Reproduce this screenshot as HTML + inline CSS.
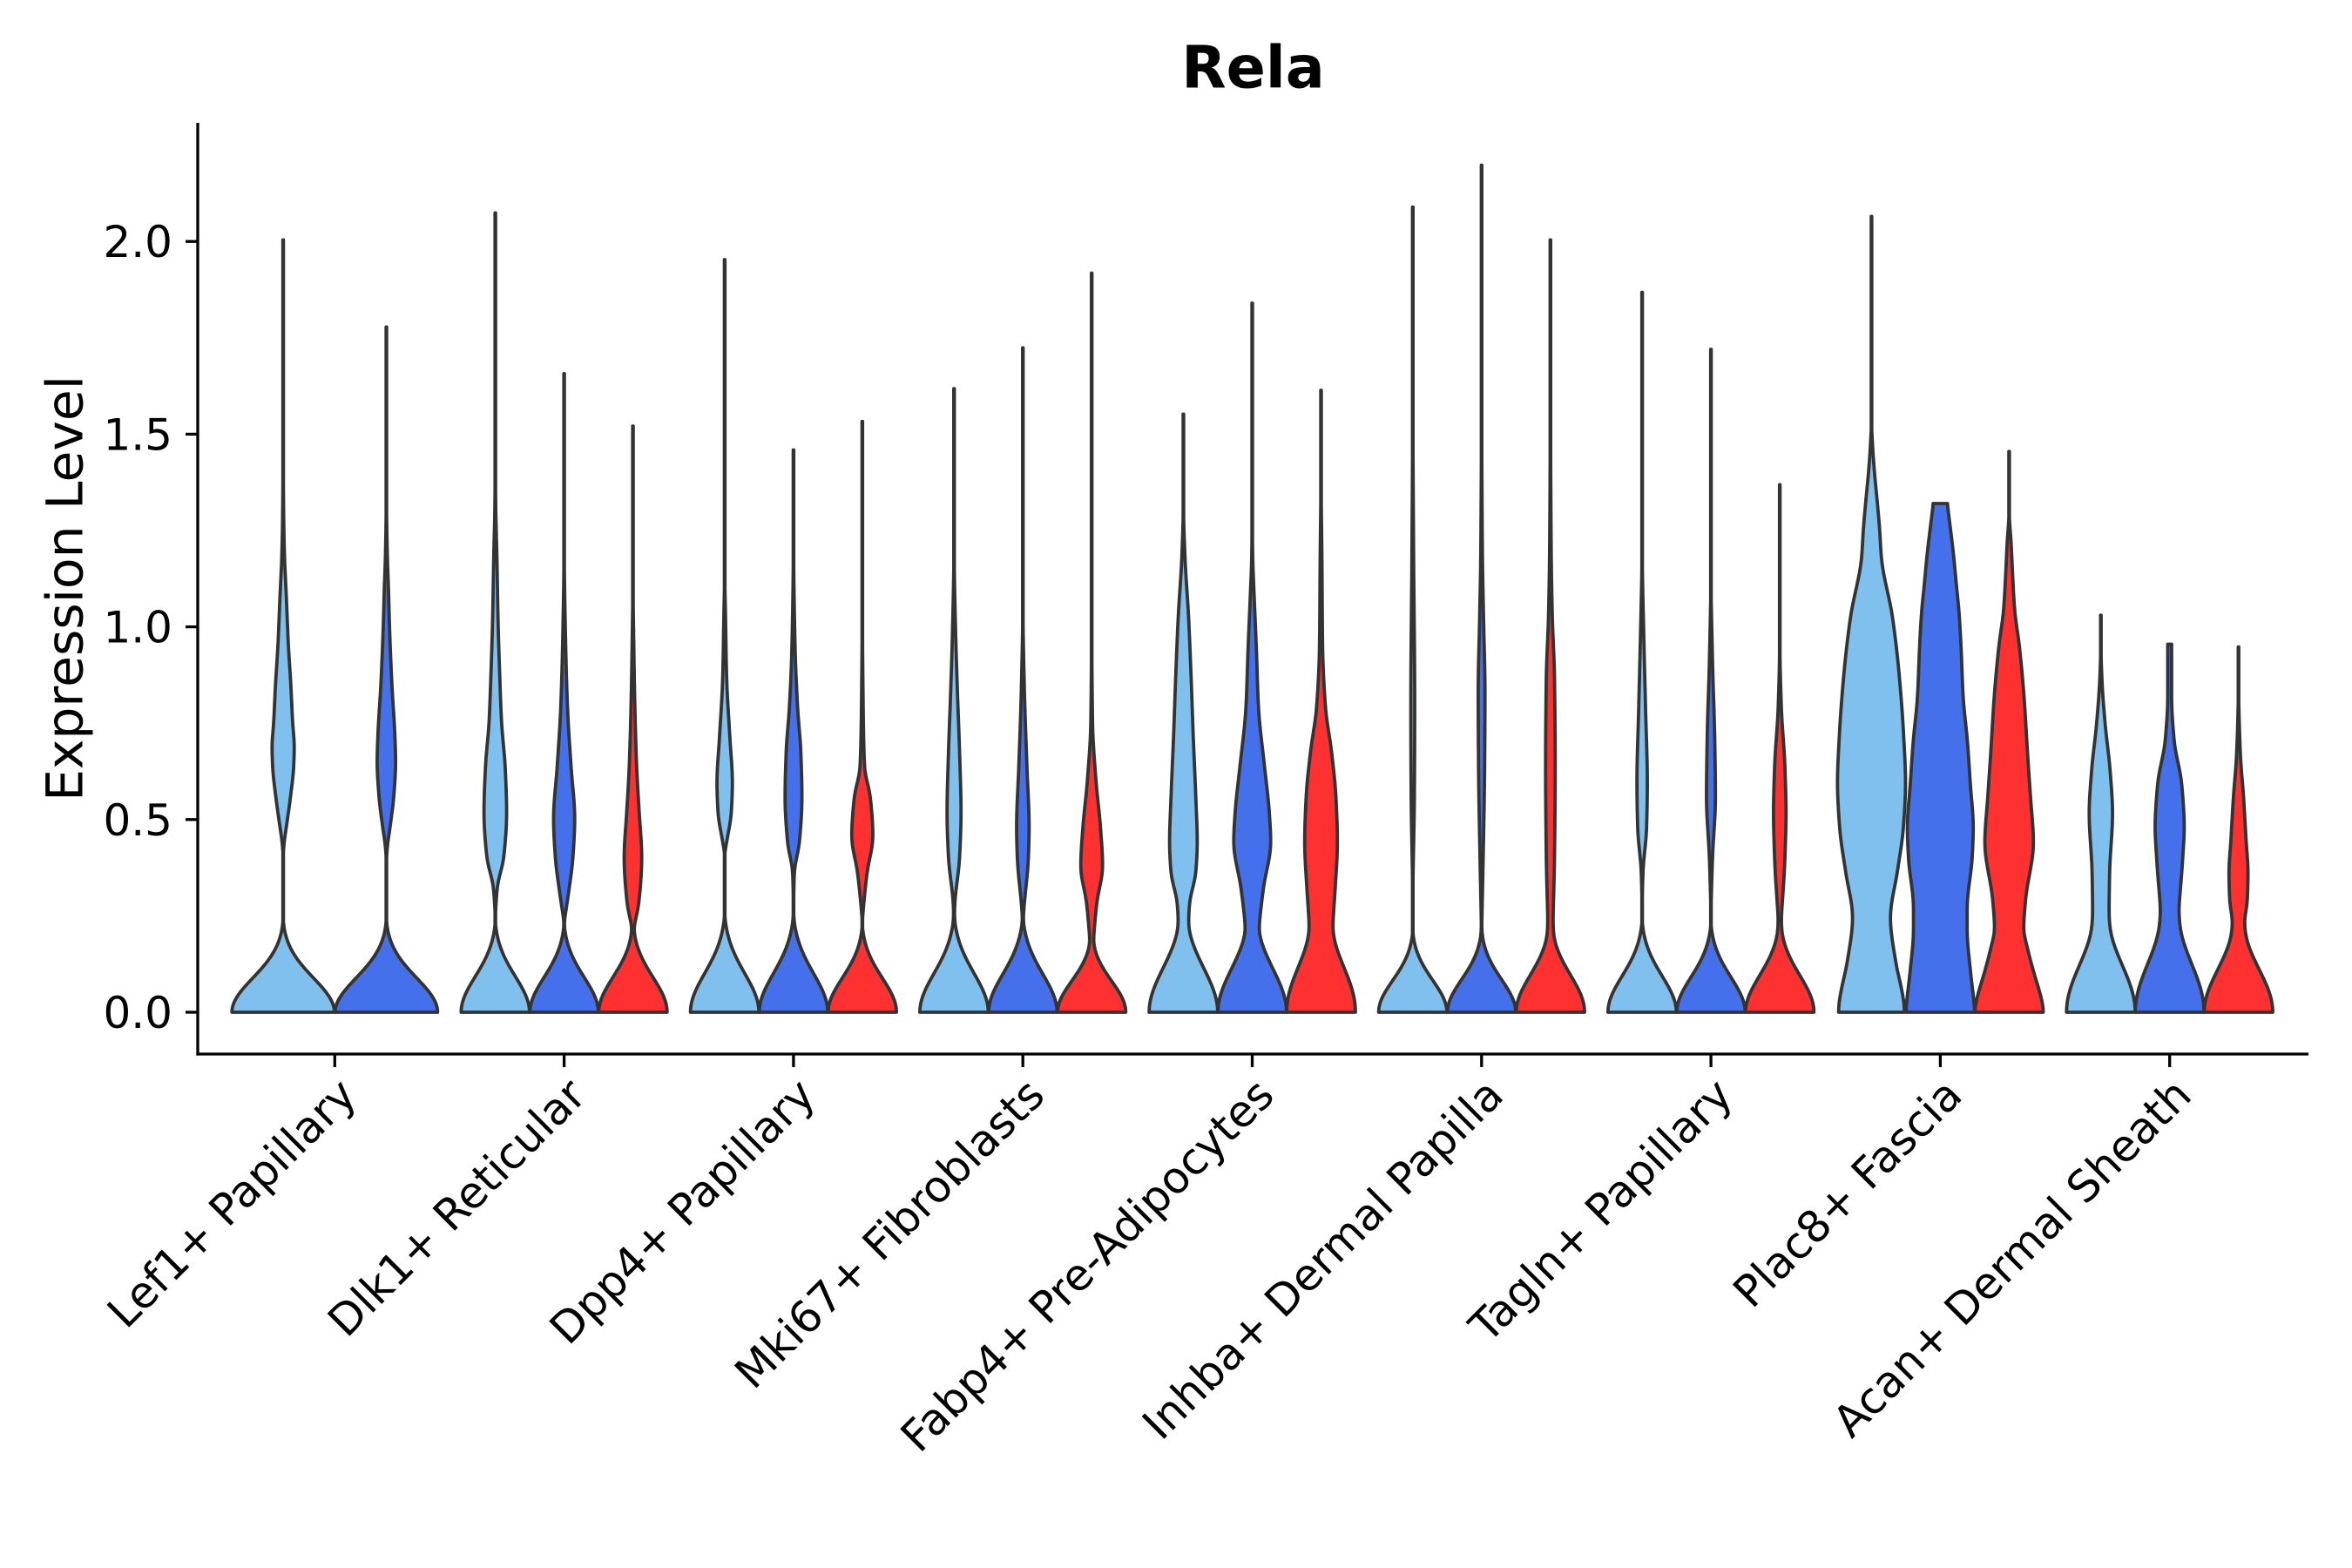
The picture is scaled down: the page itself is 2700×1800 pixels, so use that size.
<!DOCTYPE html>
<html>
<head>
<meta charset="utf-8">
<style>
html,body{margin:0;padding:0;background:#ffffff;}
svg{display:block;}
text{font-family:"DejaVu Sans","Liberation Sans",sans-serif;fill:#000;}
</style>
</head>
<body>
<svg id="chart" width="2700" height="1800" viewBox="0 0 2700 1800" xmlns="http://www.w3.org/2000/svg">
<rect x="0" y="0" width="2700" height="1800" fill="#ffffff"/>
<g id="violins"></g>
<g stroke="#000" stroke-width="3.3" fill="none" stroke-linecap="butt">
<line x1="227" y1="141" x2="227" y2="1211.6"/>
<line x1="225.4" y1="1210" x2="2650" y2="1210"/>
<line x1="213" y1="1162" x2="227" y2="1162"/>
<line x1="213" y1="940.8" x2="227" y2="940.8"/>
<line x1="213" y1="719.6" x2="227" y2="719.6"/>
<line x1="213" y1="498.4" x2="227" y2="498.4"/>
<line x1="213" y1="277.2" x2="227" y2="277.2"/>
<line x1="384.3" y1="1210" x2="384.3" y2="1225"/>
<line x1="647.6" y1="1210" x2="647.6" y2="1225"/>
<line x1="910.9" y1="1210" x2="910.9" y2="1225"/>
<line x1="1174.2" y1="1210" x2="1174.2" y2="1225"/>
<line x1="1437.5" y1="1210" x2="1437.5" y2="1225"/>
<line x1="1700.8" y1="1210" x2="1700.8" y2="1225"/>
<line x1="1964.1" y1="1210" x2="1964.1" y2="1225"/>
<line x1="2227.4" y1="1210" x2="2227.4" y2="1225"/>
<line x1="2490.7" y1="1210" x2="2490.7" y2="1225"/>
</g>
<g font-size="50" text-anchor="end">
<text x="198" y="1180">0.0</text>
<text x="198" y="958.8">0.5</text>
<text x="198" y="737.6">1.0</text>
<text x="198" y="516.4">1.5</text>
<text x="198" y="295.2">2.0</text>
</g>
<text x="94.7" y="675.5" font-size="58.3" text-anchor="middle" transform="rotate(-90 94.7 675.5)">Expression Level</text>
<text x="1438.5" y="100.7" font-size="66.7" font-weight="bold" text-anchor="middle">Rela</text>
<g font-size="50" text-anchor="end">
<text x="411.8" y="1260" transform="rotate(-45 411.8 1260)">Lef1+ Papillary</text>
<text x="675.1" y="1260" transform="rotate(-45 675.1 1260)">Dlk1+ Reticular</text>
<text x="938.4" y="1260" transform="rotate(-45 938.4 1260)">Dpp4+ Papillary</text>
<text x="1201.7" y="1260" transform="rotate(-45 1201.7 1260)">Mki67+ Fibroblasts</text>
<text x="1465" y="1260" transform="rotate(-45 1465 1260)">Fabp4+ Pre-Adipocytes</text>
<text x="1728.3" y="1260" transform="rotate(-45 1728.3 1260)">Inhba+ Dermal Papilla</text>
<text x="1991.6" y="1260" transform="rotate(-45 1991.6 1260)">Tagln+ Papillary</text>
<text x="2254.9" y="1260" transform="rotate(-45 2254.9 1260)">Plac8+ Fascia</text>
<text x="2518.2" y="1260" transform="rotate(-45 2518.2 1260)">Acan+ Dermal Sheath</text>
</g>
</svg>
<script>
(function(){
var LB='#80C0EE', BL='#4570EB', RD='#FF3030';
function Y(v){return 1162-442.4*v;}
// [group, offset, halfwidth, color, sigma(zero peak), points]
var V=[
[0,-59.25,59.25,LB,0.088,[[0.22,0.03],[0.40,0.03],[0.44,0.05],[0.48,0.09],[0.56,0.17],[0.64,0.23],[0.69,0.24],[0.75,0.21],[0.85,0.175],[0.95,0.13],[1.08,0.09],[1.19,0.055],[1.3,0.04],[1.5,0.03],[1.6,0.02],[2.004,0.015]]],
[0,59.25,59.25,BL,0.088,[[0.22,0.03],[0.38,0.03],[0.43,0.05],[0.48,0.1],[0.56,0.17],[0.65,0.205],[0.72,0.19],[0.85,0.135],[1.0,0.09],[1.1,0.07],[1.18,0.05],[1.3,0.035],[1.5,0.025],[1.778,0.015]]],
[1,-79,39.5,LB,0.092,[[0.24,0.04],[0.324,0.1],[0.402,0.28],[0.518,0.36],[0.635,0.32],[0.752,0.22],[0.869,0.17],[1.024,0.12],[1.18,0.09],[1.3,0.06],[1.5,0.04],[1.7,0.03],[2.074,0.03]]],
[1,0,39.5,BL,0.09,[[0.23,0.04],[0.324,0.19],[0.402,0.29],[0.503,0.34],[0.635,0.24],[0.791,0.14],[0.946,0.09],[1.18,0.05],[1.4,0.04],[1.657,0.03]]],
[1,79,39.5,RD,0.09,[[0.22,0.07],[0.285,0.21],[0.402,0.29],[0.518,0.22],[0.635,0.15],[0.791,0.1],[0.946,0.07],[1.18,0.04],[1.521,0.03]]],
[2,-79,39.5,LB,0.1,[[0.23,0.04],[0.402,0.04],[0.441,0.1],[0.518,0.23],[0.596,0.26],[0.713,0.19],[0.869,0.1],[1.024,0.07],[1.18,0.04],[1.953,0.03]]],
[2,0,39.5,BL,0.1,[[0.23,0.04],[0.363,0.07],[0.441,0.21],[0.557,0.28],[0.674,0.25],[0.791,0.16],[0.946,0.09],[1.18,0.05],[1.459,0.03]]],
[2,79,39.5,RD,0.088,[[0.23,0.04],[0.285,0.09],[0.363,0.18],[0.456,0.34],[0.557,0.27],[0.635,0.11],[0.791,0.07],[1.18,0.04],[1.533,0.03]]],
[3,-79,39.5,LB,0.1,[[0.22,0.04],[0.285,0.07],[0.402,0.2],[0.518,0.24],[0.674,0.2],[0.830,0.14],[0.985,0.09],[1.18,0.05],[1.618,0.03]]],
[3,0,39.5,BL,0.098,[[0.22,0.03],[0.285,0.09],[0.402,0.2],[0.480,0.22],[0.635,0.16],[0.830,0.09],[1.024,0.05],[1.18,0.04],[1.724,0.03]]],
[3,79,39.5,RD,0.08,[[0.184,0.09],[0.285,0.19],[0.378,0.35],[0.480,0.29],[0.596,0.17],[0.752,0.07],[1.18,0.04],[1.918,0.03]]],
[4,-79,39.5,LB,0.115,[[0.215,0.17],[0.285,0.22],[0.363,0.39],[0.441,0.43],[0.557,0.39],[0.713,0.32],[0.869,0.26],[1.024,0.19],[1.18,0.09],[1.3,0.05],[1.552,0.03]]],
[4,0,39.5,BL,0.115,[[0.207,0.21],[0.324,0.36],[0.441,0.56],[0.518,0.52],[0.635,0.39],[0.791,0.22],[0.946,0.16],[1.102,0.09],[1.18,0.06],[1.4,0.04],[1.84,0.03]]],
[4,79,39.5,RD,0.13,[[0.207,0.35],[0.324,0.44],[0.441,0.5],[0.557,0.46],[0.674,0.34],[0.791,0.17],[0.946,0.09],[1.18,0.07],[1.35,0.05],[1.614,0.03]]],
[5,-79,39.5,LB,0.082,[[0.2,0.04],[0.324,0.05],[0.557,0.09],[0.791,0.1],[1.18,0.07],[1.5,0.05],[2.089,0.03]]],
[5,0,39.5,BL,0.084,[[0.22,0.05],[0.402,0.09],[0.635,0.13],[0.830,0.14],[1.024,0.1],[1.18,0.07],[1.5,0.05],[2.198,0.03]]],
[5,79,39.5,RD,0.096,[[0.246,0.12],[0.402,0.16],[0.635,0.18],[0.869,0.16],[1.024,0.1],[1.18,0.07],[1.5,0.05],[2.004,0.03]]],
[6,-79,39.5,LB,0.093,[[0.246,0.04],[0.363,0.07],[0.480,0.17],[0.596,0.19],[0.791,0.14],[0.985,0.09],[1.18,0.05],[1.868,0.03]]],
[6,0,39.5,BL,0.09,[[0.246,0.04],[0.402,0.09],[0.557,0.17],[0.713,0.15],[0.908,0.09],[1.18,0.04],[1.72,0.03]]],
[6,79,39.5,RD,0.095,[[0.246,0.09],[0.402,0.19],[0.518,0.22],[0.635,0.19],[0.791,0.09],[0.946,0.05],[1.18,0.04],[1.369,0.03]]],
[7,-79,39.5,LB,0,[[0,0.96],[0.015,0.955],[0.05,0.9],[0.13,0.72],[0.246,0.57],[0.363,0.76],[0.48,0.93],[0.596,0.99],[0.713,0.94],[0.869,0.82],[1.024,0.63],[1.18,0.32],[1.255,0.27],[1.33,0.2],[1.41,0.12],[1.48,0.07],[1.55,0.04],[2.065,0.035]]],
[7,0,39.5,BL,0,[[0,1],[0.015,0.99],[0.1,0.89],[0.215,0.79],[0.27,0.79],[0.402,0.93],[0.48,0.96],[0.59,0.88],[0.7,0.8],[0.818,0.68],[0.95,0.62],[1.044,0.56],[1.1,0.5],[1.18,0.42],[1.32,0.24]]],
[7,79,39.5,RD,0,[[0,1],[0.015,0.985],[0.05,0.9],[0.1,0.74],[0.168,0.55],[0.215,0.45],[0.29,0.5],[0.44,0.72],[0.557,0.64],[0.667,0.56],[0.818,0.46],[0.95,0.33],[1.044,0.2],[1.18,0.12],[1.22,0.1],[1.29,0.05],[1.455,0.035]]],
[8,-79,39.5,LB,0.128,[[0.25,0.27],[0.366,0.29],[0.516,0.37],[0.63,0.3],[0.743,0.17],[0.856,0.08],[0.969,0.04],[1.03,0.03]]],
[8,0,39.5,BL,0.135,[[0.27,0.3],[0.403,0.41],[0.479,0.45],[0.592,0.38],[0.705,0.17],[0.818,0.1],[0.955,0.1]]],
[8,79,39.5,RD,0.113,[[0.2,0.21],[0.23,0.21],[0.29,0.29],[0.366,0.31],[0.441,0.26],[0.554,0.19],[0.667,0.1],[0.818,0.05],[0.948,0.03]]]
];
function mono(p){
  var n=p.length,xs=[],ys=[],d=[],m=[],i;
  for(i=0;i<n;i++){xs.push(p[i][0]);ys.push(p[i][1]);}
  for(i=0;i<n-1;i++)d.push((ys[i+1]-ys[i])/(xs[i+1]-xs[i]));
  m[0]=d[0];m[n-1]=d[n-2];
  for(i=1;i<n-1;i++){
    if(d[i-1]*d[i]<=0)m[i]=0;
    else{var h0=xs[i]-xs[i-1],h1=xs[i+1]-xs[i];var w1=2*h1+h0,w2=h1+2*h0;m[i]=(w1+w2)/(w1/d[i-1]+w2/d[i]);}
  }
  return function(v){
    if(v<=xs[0])return ys[0];
    if(v>=xs[n-1])return ys[n-1];
    var k=0;while(k<n-2&&v>xs[k+1])k++;
    var h=xs[k+1]-xs[k],t=(v-xs[k])/h;
    var t2=t*t,t3=t2*t;
    return (2*t3-3*t2+1)*ys[k]+(t3-2*t2+t)*h*m[k]+(-2*t3+3*t2)*ys[k+1]+(t3-t2)*h*m[k+1];
  };
}
var g=document.getElementById('violins');
var NS='http://www.w3.org/2000/svg';
var step=0.002, ss=0.011;
var K=[],kr=Math.ceil(3*ss/step),ksum=0;
for(var q=-kr;q<=kr;q++){var kv=Math.exp(-(q*step)*(q*step)/(2*ss*ss));K.push(kv);ksum+=kv;}
for(q=0;q<K.length;q++)K[q]/=ksum;
for(var j=0;j<V.length;j++){
  var e=V[j];var cx=384.3+263.3*e[0]+e[1];var HW=e[2];var sg=e[4];var pts=e[5];
  var f=mono(pts);var top=pts[pts.length-1][0];
  var vs=[];
  for(var v=0;v<top;v+=step)vs.push(v);
  vs.push(top);
  var raw=[];
  for(var k=0;k<vs.length;k++){
    var fv=f(vs[k]);if(fv<0)fv=0;
    var w;
    if(sg>0){var G=Math.exp(-vs[k]*vs[k]/(2*sg*sg));w=Math.pow(G*G*G*G+fv*fv*fv*fv,0.25);}
    else w=fv;
    if(w>1)w=1;
    raw.push(w);
  }
  var N=raw.length,sm=[];
  for(k=0;k<N;k++){
    var s=0;
    for(q=-kr;q<=kr;q++){
      var idx=k+q;
      if(idx<0)idx=-idx;
      if(idx>N-1)idx=N-1;
      s+=K[q+kr]*raw[idx];
    }
    sm.push(s);
  }
  var R=[],L=[];
  for(k=0;k<N;k++){
    var ww=sm[k];if(ww>1)ww=1;
    var hw=ww*HW-1.9*(1-ww);if(hw<0.3)hw=0.3;
    var y=Y(vs[k]).toFixed(2);
    R.push((cx+hw).toFixed(2)+','+y);
    L.push((cx-hw).toFixed(2)+','+y);
  }
  L.reverse();
  var dstr='M'+R.join(' L')+' L'+L.join(' L')+' Z';
  var p=document.createElementNS(NS,'path');
  p.setAttribute('d',dstr);
  p.setAttribute('fill',e[3]);
  p.setAttribute('stroke','#333333');
  p.setAttribute('stroke-width','3.8');
  p.setAttribute('stroke-linejoin','round');
  g.appendChild(p);
}
})();
</script>
</body>
</html>
